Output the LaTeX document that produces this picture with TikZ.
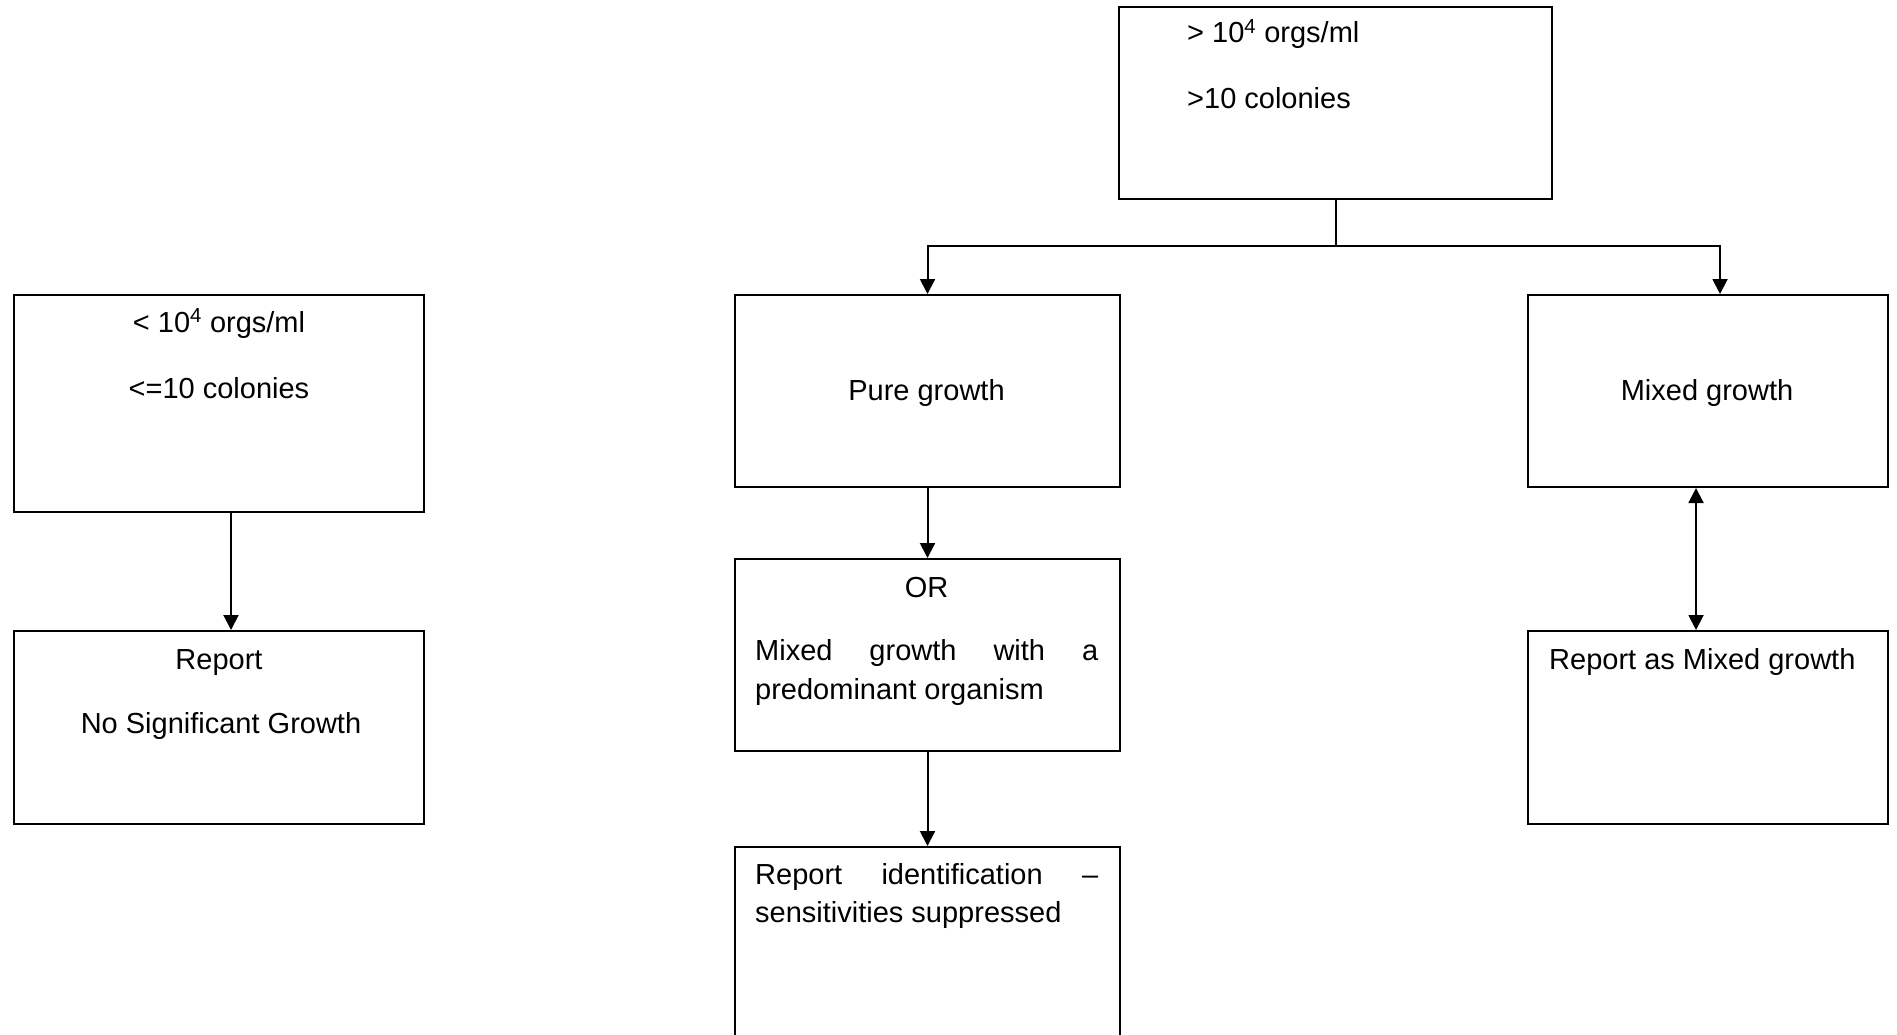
\documentclass[tikz,border=0pt]{standalone}
\usepackage{fontspec}
\setmainfont{Liberation Sans}
\usetikzlibrary{arrows.meta}
\begin{document}
\begin{tikzpicture}[x=1pt,y=1pt,
 box/.style={draw, line width=2pt, rectangle, anchor=north west, inner sep=0pt},
 txt/.style={anchor=base, inner sep=0pt, font=\fontsize{29}{35}\selectfont},
 txtl/.style={anchor=base west, inner sep=0pt, font=\fontsize{29}{35}\selectfont},
 conn/.style={line width=2pt},
 arr/.style={conn, -{Triangle[width=15pt,length=15pt]}},
 darr/.style={conn, {Triangle[width=15pt,length=15pt]}-{Triangle[width=15pt,length=15pt]}}]
\useasboundingbox (0,0) rectangle (1897,-1035);
\clip (0,0) rectangle (1897,-1035);
% boxes
\node[box, minimum width=433pt, minimum height=192pt] (top) at (1118,-6) {};
\node[box, minimum width=410pt, minimum height=217pt] (lt1) at (13,-294) {};
\node[box, minimum width=410pt, minimum height=193pt] (lt2) at (13,-630) {};
\node[box, minimum width=385pt, minimum height=192pt] (pure) at (734,-294) {};
\node[box, minimum width=385pt, minimum height=192pt] (orbox) at (734,-558) {};
\node[box, minimum width=385pt, minimum height=260pt] (rid) at (734,-846) {};
\node[box, minimum width=360pt, minimum height=192pt] (mix) at (1527,-294) {};
\node[box, minimum width=360pt, minimum height=193pt] (rmix) at (1527,-630) {};
% texts
\node[txtl] (t1) at (1187,-43) {> 10\textsuperscript{4} orgs/ml};
\node[txtl] (t2) at (1187,-109) {>10 colonies};
\node[txt] (l1) at (219,-332) {< 10\textsuperscript{4} orgs/ml};
\node[txt] (l2) at (219,-398) {<=10 colonies};
\node[txt] (l3) at (219,-669) {Report};
\node[txt] (l4) at (221,-733) {No Significant Growth};
\node[txt] (p1) at (926.5,-400) {Pure growth};
\node[txt] (o1) at (926.5,-597) {OR};
\node[txtl] (o2) at (755,-660) {\hbox to 343pt{Mixed\hfill growth\hfill with\hfill a}};
\node[txtl] (o3) at (755,-699) {predominant organism};
\node[txtl] (r1) at (755,-884) {\hbox to 343pt{Report\hfill identification\hfill –}};
\node[txtl] (r2) at (755,-922) {sensitivities suppressed};
\node[txt] (m1) at (1707,-400) {Mixed growth};
\node[txtl] (m2) at (1549,-669) {Report as Mixed growth};
% connectors
\coordinate (bar) at (0,-246);
\draw[arr] (top.south) -- (top.south |- bar) -| (pure.north);
\draw[arr] (top.south |- bar) -| ([xshift=12pt]mix.north);
\draw[arr] ([xshift=12pt]lt1.south) -- ([xshift=12pt]lt2.north);
\draw[arr] (pure.south) -- (orbox.north);
\draw[arr] (orbox.south) -- (rid.north);
\draw[darr] ([xshift=-12pt]mix.south) -- ([xshift=-12pt]rmix.north);
\end{tikzpicture}
\end{document}
